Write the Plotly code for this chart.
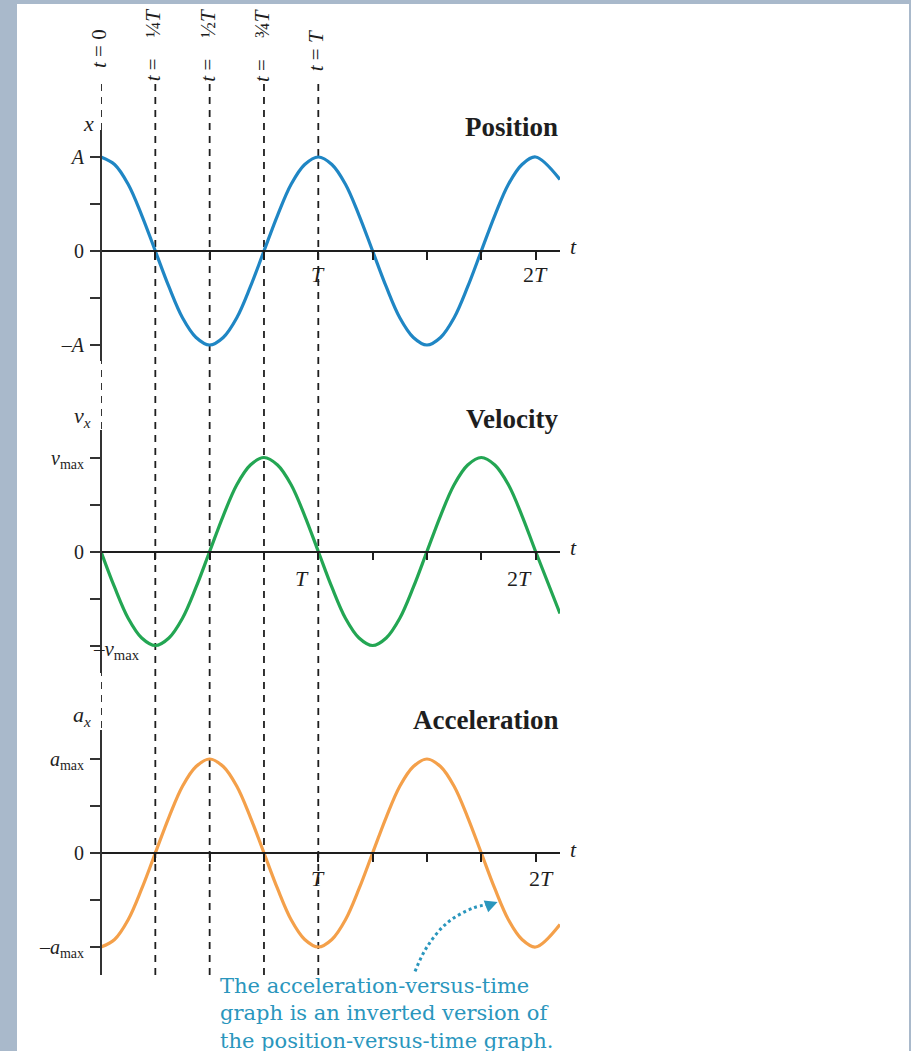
import plotly.graph_objects as go

W, H = 911, 1051

# ---------------- data (time in units of T, values in units of amplitude) ----
t_vals = [0.0, 0.0625, 0.125, 0.1875, 0.25, 0.3125, 0.375, 0.4375,
          0.5, 0.5625, 0.625, 0.6875, 0.75, 0.8125, 0.875, 0.9375,
          1.0, 1.0625, 1.125, 1.1875, 1.25, 1.3125, 1.375, 1.4375,
          1.5, 1.5625, 1.625, 1.6875, 1.75, 1.8125, 1.875, 1.9375,
          2.0, 2.112]
position = [1, 0.92, 0.71, 0.38, 0, -0.38, -0.71, -0.92,
            -1, -0.92, -0.71, -0.38, 0, 0.38, 0.71, 0.92,
            1, 0.92, 0.71, 0.38, 0, -0.38, -0.71, -0.92,
            -1, -0.92, -0.71, -0.38, 0, 0.38, 0.71, 0.92,
            1, 0.76]
velocity = [0, -0.38, -0.71, -0.92, -1, -0.92, -0.71, -0.38,
            0, 0.38, 0.71, 0.92, 1, 0.92, 0.71, 0.38,
            0, -0.38, -0.71, -0.92, -1, -0.92, -0.71, -0.38,
            0, 0.38, 0.71, 0.92, 1, 0.92, 0.71, 0.38,
            0, -0.66]
acceleration = [-1, -0.92, -0.71, -0.38, 0, 0.38, 0.71, 0.92,
                1, 0.92, 0.71, 0.38, 0, -0.38, -0.71, -0.92,
                -1, -0.92, -0.71, -0.38, 0, 0.38, 0.71, 0.92,
                1, 0.92, 0.71, 0.38, 0, -0.38, -0.71, -0.92,
                -1, -0.76]

marker_times = [0, 0.25, 0.5, 0.75, 1.0]
marker_labels = ["<i>t</i> = 0",
                 "<i>t</i> =\u2002\u2002¼<i>T</i>",
                 "<i>t</i> =\u2002\u2002½<i>T</i>",
                 "<i>t</i> =\u2002\u2002¾<i>T</i>",
                 "<i>t</i> = <i>T</i>"]

x_ticks = [0.25, 0.5, 0.75, 1.0, 1.25, 1.5, 1.75, 2.0]
y_ticks = [-1, -0.5, 0, 0.5, 1]
pos_ticktext = ["\u2013<i>A</i>", "", "0", "", "<i>A</i>"]
vel_ticktext = ["", "", "0", "", "<i>v</i><sub>max</sub>"]
acc_ticktext = ["\u2013<i>a</i><sub>max</sub>", "", "0", "", "<i>a</i><sub>max</sub>"]

panel_titles = ["Position", "Velocity", "Acceleration"]
y_labels = ["<i>x</i>", "<i>v</i><sub><i>x</i></sub>", "<i>a</i><sub><i>x</i></sub>"]
period_labels = ["<i>T</i>", "2<i>T</i>"]
period_vals = [1, 2]

# dotted arrow path (acceleration-panel data units)
arrow_t = [1.445, 1.50, 1.592, 1.712, 1.79]
arrow_y = [-1.26, -1.0, -0.745, -0.585, -0.545]
arrow_tip = (1.825, -0.52)

note_text = ("The acceleration-versus-time<br>graph is an inverted version of"
             "<br>the position-versus-time graph.")

# ---------------- geometry (pixels) ----------------
AX_X = 101.0
T_PX = 217.3
X_END = 560.0
UNIT = 94.0
panels = [  # top, zero, bottom
    (130.0, 251.0, 361.0),
    (430.0, 551.5, 673.0),
    (730.0, 853.0, 975.0),
]
colors = ["#1f86c4", "#23a653", "#f4a04a"]
series = [position, velocity, acceleration]
ticktexts = [pos_ticktext, vel_ticktext, acc_ticktext]
title_y = [127, 419, 720]
ylab_pos = [(88, 123), (82, 417), (82, 716)]
T_label_shift = [[0, 0], [-16, -16], [0, 6]]
T_label_y = [274, 578, 878]

SERIF = "Liberation Serif"
INK = "#1e1e1e"
TEAL = "#2a96bd"


def py(p):
    return 1 - p / H


def px(p):
    return p / W


fig = go.Figure()
x_range = [0, (X_END - AX_X) / T_PX]
x_domain = [px(AX_X), px(X_END)]

layout = dict(
    width=W, height=H,
    margin=dict(l=0, r=0, t=0, b=0),
    paper_bgcolor="#a9b9cb",
    plot_bgcolor="rgba(0,0,0,0)",
    showlegend=False,
    hovermode=False,
    font=dict(family=SERIF, color=INK, size=20),
)

annotations = []
shapes = [dict(type="rect", xref="paper", yref="paper", x0=px(17), x1=px(909),
               y0=0, y1=py(4), fillcolor="white", line=dict(width=0), layer="below")]

for i, (top, zero, bot) in enumerate(panels):
    sfx = "" if i == 0 else str(i + 1)
    xa = "x" + sfx
    ya = "y" + sfx
    fig.add_trace(go.Scatter(x=t_vals, y=series[i], xaxis=xa, yaxis=ya, mode="lines",
                             line=dict(color=colors[i], width=3.2, shape="spline",
                                       smoothing=1.0),
                             hoverinfo="skip"))
    layout["xaxis" + sfx] = dict(
        domain=x_domain, range=x_range, anchor="free", position=py(zero),
        showline=True, linecolor=INK, linewidth=1.5, showgrid=False, zeroline=False,
        ticks="outside", ticklen=8, tickwidth=1.5, tickcolor=INK,
        tickvals=x_ticks, ticktext=[""] * len(x_ticks), fixedrange=True)
    layout["yaxis" + sfx] = dict(
        domain=[py(bot), py(top)], range=[-(bot - zero) / UNIT, (zero - top) / UNIT],
        anchor="free", position=px(AX_X),
        showline=True, linecolor="#333333", linewidth=2, showgrid=False, zeroline=False,
        ticks="outside", ticklen=10, tickwidth=1.5, tickcolor="#333333",
        tickvals=y_ticks, ticktext=ticktexts[i], ticklabelstandoff=2,
        tickfont=dict(family=SERIF, size=20, color=INK), fixedrange=True)

    # panel title
    annotations.append(dict(xref="paper", yref="paper", x=px(560), y=py(title_y[i]),
                            xanchor="right", yanchor="middle", showarrow=False,
                            text="<b>%s</b>" % panel_titles[i],
                            font=dict(family=SERIF, size=27, color=INK)))
    # y-variable label
    annotations.append(dict(xref="paper", yref="paper", x=px(ylab_pos[i][0]),
                            y=py(ylab_pos[i][1]), xanchor="center", yanchor="middle",
                            showarrow=False, text=y_labels[i],
                            font=dict(family=SERIF, size=22, color=INK)))
    # t label at end of axis
    annotations.append(dict(xref="paper", yref="paper", x=px(573), y=py(zero - 4),
                            xanchor="center", yanchor="middle", showarrow=False,
                            text="<i>t</i>", font=dict(family=SERIF, size=22, color=INK)))
    # period labels
    for j, (lab, val) in enumerate(zip(period_labels, period_vals)):
        annotations.append(dict(xref=xa, yref="paper", x=val, y=py(T_label_y[i]),
                                xanchor="center", yanchor="middle", showarrow=False,
                                xshift=T_label_shift[i][j], text=lab,
                                font=dict(family=SERIF, size=22, color=INK)))

# -v_max label sits to the right of the axis in the reference
annotations.append(dict(xref="paper", yref="paper", x=px(91), y=py(650),
                        xanchor="left", yanchor="middle", showarrow=False,
                        text="\u2013<i>v</i><sub>max</sub>",
                        font=dict(family=SERIF, size=21, color=INK)))

# dashed time markers and their rotated labels
label_centers = [49, 45, 45, 45, 51]
for tm, lab, cy in zip(marker_times, marker_labels, label_centers):
    shapes.append(dict(type="line", xref="x", yref="paper", x0=tm, x1=tm,
                       y0=py(84), y1=py(975), layer="below",
                       line=dict(color=INK, width=1.8, dash="7px,6px")))
    annotations.append(dict(xref="x", yref="paper", x=tm, y=py(cy), xshift=-2,
                            xanchor="center", yanchor="middle", textangle=-90,
                            showarrow=False, text=lab,
                            font=dict(family=SERIF, size=21, color=INK)))

# dotted arrow
fig.add_trace(go.Scatter(x=arrow_t, y=arrow_y, xaxis="x3", yaxis="y3", mode="lines",
                         line=dict(color=TEAL, width=3, dash="3px,3px", shape="spline"),
                         hoverinfo="skip"))
annotations.append(dict(xref="x3", yref="y3", x=arrow_tip[0], y=arrow_tip[1],
                        ax=-13, ay=5, showarrow=True, arrowhead=2, arrowsize=1,
                        arrowwidth=2.5, arrowcolor=TEAL, text=""))

# explanatory note
annotations.append(dict(xref="paper", yref="paper", x=px(218), y=py(1013),
                        xanchor="left", yanchor="middle", align="left", showarrow=False,
                        text=note_text,
                        font=dict(family="DejaVu Serif", size=21, color=TEAL)))

layout["annotations"] = annotations
layout["shapes"] = shapes
fig.update_layout(**layout)
fig.write_html(
    "out.html",
    config={"displayModeBar": False},
    post_script="document.body.style.margin='0';document.body.style.overflow='hidden';"
                "document.documentElement.style.overflow='hidden';",
)
